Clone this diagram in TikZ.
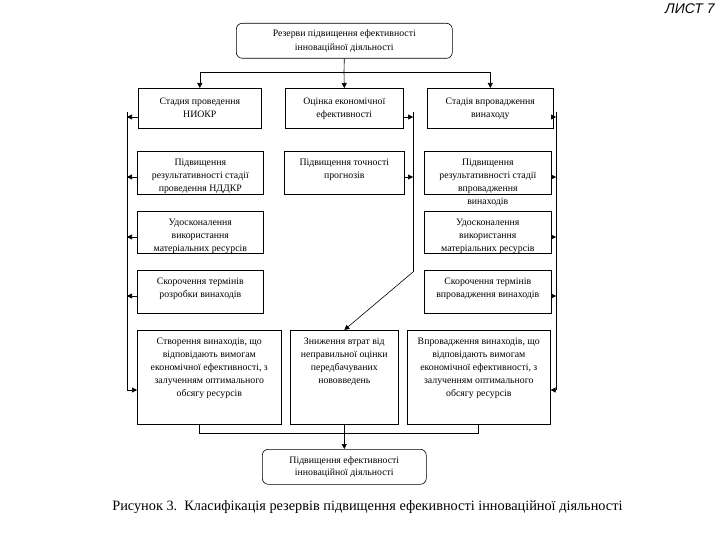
\documentclass[tikz,border=0pt]{standalone}
\usepackage{fontspec}
\setmainfont{Liberation Serif}
\newfontfamily\headfont{Liberation Sans}
\usetikzlibrary{arrows.meta}

% text set at the top of a box of fixed size
\newcommand{\boxtext}[3]{\parbox[c][#2pt][t]{#1pt}{\centering\rule{0pt}{14pt}#3}}

\begin{document}
\begin{tikzpicture}[x=1pt, y=-1pt, line width=0.6pt,
  every node/.style={inner sep=0pt, font=\fontsize{9.8}{13}\selectfont},
  cellbox/.style={draw, rectangle, anchor=north west},
  rbox/.style={draw, rectangle, rounded corners=6pt, align=center, anchor=north west},
  arr/.style={-{Triangle[length=5pt,width=5pt]}}]
  \useasboundingbox (0,0) rectangle (720,540);

  \node[anchor=north east, font=\headfont\itshape\fontsize{14}{14}\selectfont] (sheet) at (715,3) {ЛИСТ 7};

  \node[rbox, minimum width=216pt, minimum height=35pt, font=\fontsize{9.8}{14}\selectfont] (res) at (236,23)
    {Резерви підвищення ефективності\\інноваційної діяльності};

  \node[cellbox] (l1) at (138,88) {\boxtext{123}{40}{\rule{0pt}{16pt}Стадия проведення\\НИОКР}};
  \node[cellbox] (m1) at (285,88) {\boxtext{118}{40}{\rule{0pt}{16pt}Оцінка економічної\\ефективності}};
  \node[cellbox] (r1) at (427,88) {\boxtext{126}{40}{\rule{0pt}{16pt}Стадія впровадження\\винаходу}};

  \node[cellbox] (l2) at (137,151) {\boxtext{126}{43}{Підвищення\\результативності стадії\\проведення НДДКР}};
  \node[cellbox] (m2) at (284,151) {\boxtext{120}{43}{Підвищення точності\\прогнозів}};
  \node[cellbox] (r2) at (424,151) {\boxtext{127}{43}{Підвищення\\результативності стадії\\впровадження\\винаходів}};

  \node[cellbox] (l3) at (137,211) {\boxtext{126}{42}{Удосконалення\\використання\\матеріальних ресурсів}};
  \node[cellbox] (r3) at (424,211) {\boxtext{127}{42}{Удосконалення\\використання\\матеріальних ресурсів}};

  \node[cellbox] (l4) at (137,270) {\boxtext{126}{43}{Скорочення термінів\\розробки винаходів}};
  \node[cellbox] (r4) at (424,270) {\boxtext{127}{43}{Скорочення термінів\\впровадження винаходів}};

  \node[cellbox] (l5) at (137,330) {\boxtext{144}{94}{Створення винаходів, що\\відповідають вимогам\\економічної ефективності, з\\залученням оптимального\\обсягу ресурсів}};
  \node[cellbox] (m5) at (290,330) {\boxtext{108}{94}{Зниження втрат від\\неправильної оцінки\\передбачуваних\\нововведень}};
  \node[cellbox] (r5) at (407,330) {\boxtext{143}{94}{Впровадження винаходів, що\\відповідають вимогам\\економічної ефективності, з\\залученням оптимального\\обсягу ресурсів}};

  \node[rbox, minimum width=164pt, minimum height=35pt, font=\fontsize{9.8}{12}\selectfont] (eff) at (262,449)
    {Підвищення ефективності\\інноваційної діяльності};

  \node[anchor=base west, font=\fontsize{14.3}{16}\selectfont] (cap) at (112,510)
    {Рисунок 3.\ \ Класифікація резервів підвищення ефекивності інноваційної діяльності};

  % top split
  \coordinate (split) at (344,72);
  \draw (res.south) -- (split);
  \draw[arr] (split) -| (l1.north);
  \draw[arr] (split) -- (m1.north);
  \draw[arr] (split) -| (r1.north);

  % side lines
  \coordinate (lp0) at (127,112);
  \coordinate (rp0) at (556,112);
  \foreach \i/\y in {1/117, 2/177, 3/237, 4/296} {
    \coordinate (lp\i) at (127,\y);
    \coordinate (rp\i) at (556,\y);
    \draw[arr] (l\i.west |- lp\i) -- (lp\i);
    \draw[arr] (r\i.east |- rp\i) -- (rp\i);
  }
  \coordinate (lp5) at (127,390);
  \coordinate (rp5) at (556,390);
  \draw (lp0) -- (lp5);
  \draw (rp0) -- (rp5);
  \draw[arr] (lp5) -- (l5.west |- lp5);
  \draw[arr] (rp5) -- (r5.east |- rp5);

  % middle line
  \coordinate (mp0) at (413,112);
  \coordinate (mp1) at (413,117);
  \coordinate (mp2) at (413,177);
  \coordinate (mbend) at (413,272);
  \draw[arr] (m1.east |- mp1) -- (mp1);
  \draw[arr] (m2.east |- mp2) -- (mp2);
  \draw (mp0) -- (mbend);
  \draw[arr] (mbend) -- (m5.north);

  % bottom join
  \coordinate (bl) at (199,433);
  \coordinate (br) at (478,433);
  \draw (l5.south -| bl) -- (bl) -- (br) -- (r5.south -| br);
  \draw[arr] (m5.south) -- (eff.north);
\end{tikzpicture}
\end{document}
